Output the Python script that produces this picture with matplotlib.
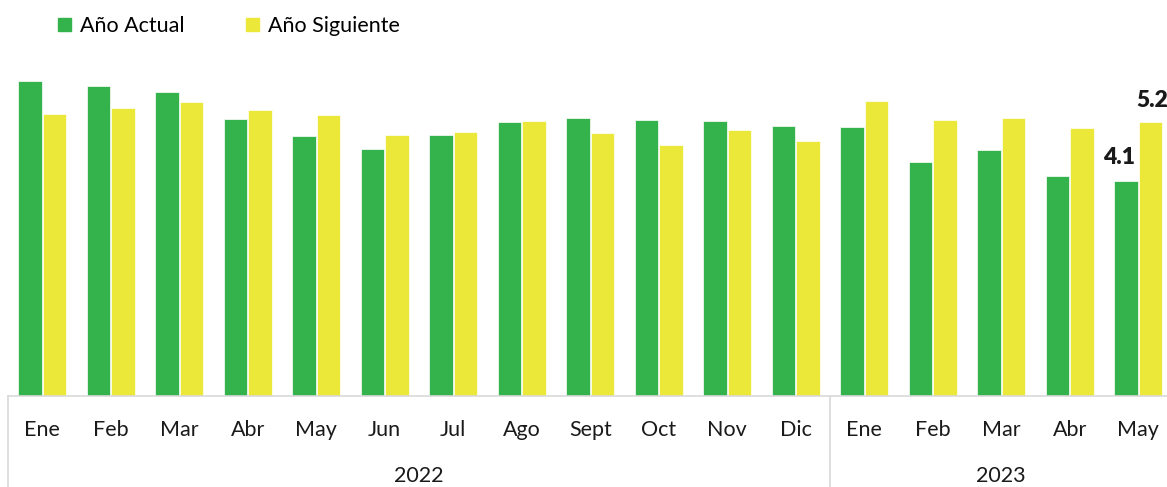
import numpy as np
import matplotlib
matplotlib.use("Agg")
import matplotlib.pyplot as plt
from matplotlib.patches import Patch

plt.rcParams['font.family'] = ['Lato', 'DejaVu Sans']

# datos
meses = ['Ene', 'Feb', 'Mar', 'Abr', 'May', 'Jun', 'Jul', 'Ago', 'Sept', 'Oct', 'Nov', 'Dic',
         'Ene', 'Feb', 'Mar', 'Abr', 'May']
anios = ['2022', '2023']
meses_por_anio = [12, 5]
anio_actual = [6.01, 5.93, 5.81, 5.29, 4.97, 4.72, 4.99, 5.24, 5.31, 5.27, 5.26, 5.16,
               5.14, 4.47, 4.70, 4.20, 4.10]
anio_siguiente = [5.39, 5.51, 5.62, 5.47, 5.37, 4.99, 5.04, 5.26, 5.02, 4.79, 5.08, 4.87,
                  5.64, 5.27, 5.31, 5.12, 5.24]

verde = '#34B34C'
amarillo = '#EBE83A'

fig = plt.figure(figsize=(11.67, 4.87), dpi=100)
ax = fig.add_axes([8/1167, 1 - 396/487, 1164.5/1167, 356/487])

x = np.arange(len(meses))
w = 0.34
ax.bar(x - 0.18, anio_actual, w, color=verde, edgecolor='white', linewidth=0.5)
ax.bar(x + 0.18, anio_siguiente, w, color=amarillo, edgecolor='white', linewidth=0.5)

ax.set_xlim(-0.5, len(meses) - 0.5)
ax.set_ylim(0, 6.8)
ax.set_yticks([])
for s in ['top', 'right', 'left']:
    ax.spines[s].set_visible(False)
ax.spines['bottom'].set_color('#D9D9D9')
ax.spines['bottom'].set_linewidth(1.2)

ax.set_xticks(x)
ax.set_xticklabels(meses, fontsize=15.5, color='#1a1a1a')
ax.tick_params(axis='x', length=0, pad=17)

# separadores de anios y etiquetas de anio
tr = ax.get_xaxis_transform()
limites = [-0.5]
for n in meses_por_anio:
    limites.append(limites[-1] + n)
for b in limites:
    ax.plot([b, b], [0, -0.27], color='#D9D9D9', lw=1.2, transform=tr, clip_on=False)
for i, a in enumerate(anios):
    centro = (limites[i] + limites[i + 1]) / 2
    ax.text(centro, -0.225, a, transform=tr, ha='center', va='center',
            fontsize=15.5, color='#1a1a1a')

# etiquetas del ultimo mes
ult = len(meses) - 1
ax.annotate(f'{anio_actual[ult]:.1f}', (ult - 0.18, anio_actual[ult]), xytext=(-5, 17),
            textcoords='offset points', ha='center', va='center',
            fontsize=16.5, fontweight='heavy', color='#1a1a1a')
ax.annotate(f'{anio_siguiente[ult]:.1f}', (ult + 0.18, anio_siguiente[ult]), xytext=(1.5, 15),
            textcoords='offset points', ha='center', va='center',
            fontsize=16.5, fontweight='heavy', color='#1a1a1a')

handles = [Patch(color=verde, label='Año Actual'), Patch(color=amarillo, label='Año Siguiente')]
fig.legend(handles=handles, loc='center left', bbox_to_anchor=(58/1167, 1 - 26/487),
           ncol=2, frameon=False, fontsize=15.5, handlelength=0.6, handleheight=0.6,
           handletextpad=0.4, columnspacing=2.9, borderpad=0, borderaxespad=0)

fig.savefig('out.png', dpi=100)
